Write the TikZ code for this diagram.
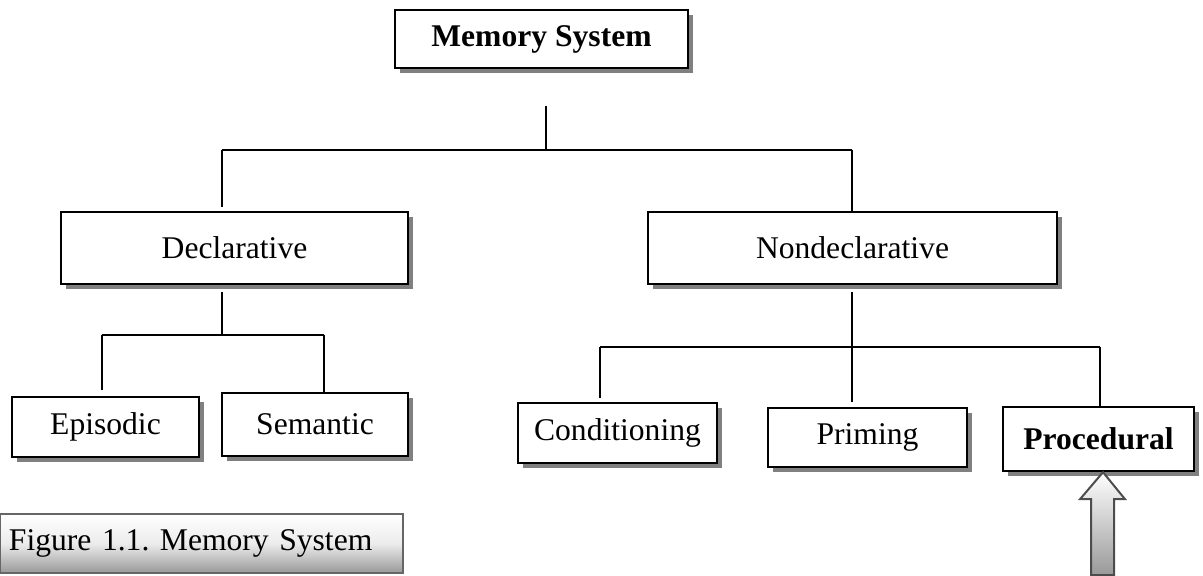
\documentclass[tikz,border=0pt]{standalone}
\usepackage{fontspec}
\setmainfont{Liberation Serif}
\frenchspacing
\usetikzlibrary{shadows}

\begin{document}
\begin{tikzpicture}[
	x=0.5pt, y=-0.5pt,
	box/.style={
		rectangle,
		draw=black,
		line width=1.2pt,
		fill=white,
		inner sep=0pt,
		minimum height=30pt,
		text centered,
		font=\fontsize{15.8}{19}\selectfont,
		drop shadow={shadow xshift=2.5pt, shadow yshift=-2.5pt, fill=gray, opacity=1}
	},
	link/.style={line width=1pt},
	pointer/.style={
		draw=gray!60!black,
		line width=1pt,
		top color=white,
		bottom color=gray!80
	},
	caption/.style={
		rectangle,
		draw=gray!80!black,
		line width=1.2pt,
		top color=white,
		bottom color=gray!80,
		middle color=gray!15,
		inner xsep=4.5pt,
		inner ysep=0pt,
		text width=192.5pt,
		minimum height=29.5pt,
		align=left,
		font=\fontsize{15.8}{19}\selectfont
	}
	]
	
	\useasboundingbox (0,0) rectangle (1203,576);
	
	% Top box
	\node[box, minimum width=146.5pt, minimum height=29pt] (memory) at (541.5,39) {\bfseries Memory System};
	
	% Second level
	\node[box, minimum width=173.5pt, minimum height=36pt] (decl) at (234.5,248) {Declarative};
	\node[box, minimum width=204.5pt, minimum height=36pt] (nondecl) at (852.5,248) {Nondeclarative};
	
	% Third level
	\node[box, minimum width=93.5pt] (episodic) at (105.5,427) {Episodic};
	\node[box, minimum width=93pt, minimum height=31.5pt] (semantic) at (315,424.5) {Semantic};
	\node[box, minimum width=99.5pt] (cond) at (617.5,433) {Conditioning};
	\node[box, minimum width=99.5pt, minimum height=29.5pt] (priming) at (867.5,437.5) {Priming};
	\node[box, minimum width=95.5pt, minimum height=32pt] (proc) at (1098.5,439) {\bfseries Procedural};
	
	% Junctions
	\coordinate (memjoin) at (546,150);
	\coordinate (declup) at (222,150);
	\coordinate (nondeclup) at (852,150);
	\coordinate (declfork) at (222,335);
	\coordinate (episodicup) at (102,335);
	\coordinate (semanticup) at (324,335);
	\coordinate (nondeclfork) at (852,347);
	\coordinate (condup) at (600,347);
	\coordinate (procup) at (1100,347);
	
	% Memory system to the two branches
	\draw[link, shorten <=18.5pt] (memjoin |- memory.south) -- (memjoin);
	\draw[link] (declup) -- (nondeclup);
	\draw[link, shorten >=2pt] (declup) -- (declup |- decl.north);
	\draw[link] (nondeclup) -- (nondeclup |- nondecl.north);
	
	% Declarative
	\draw[link, shorten <=3.5pt] (declfork |- decl.south) -- (declfork);
	\draw[link] (episodicup) -- (semanticup);
	\draw[link, shorten >=3pt] (episodicup) -- (episodicup |- episodic.north);
	\draw[link] (semanticup) -- (semanticup |- semantic.north);
	
	% Nondeclarative
	\draw[link, shorten <=3.5pt] (nondeclfork |- nondecl.south) -- (nondeclfork);
	\draw[link] (condup) -- (procup);
	\draw[link, shorten >=2pt] (condup) -- (condup |- cond.north);
	\draw[link, shorten >=2.5pt] (nondeclfork) -- (nondeclfork |- priming.north);
	\draw[link] (procup) -- (procup |- proc.north);
	
	% Arrow
	\coordinate (tip) at ([xshift=2.25pt]proc.south);
	\draw[pointer] (tip) -- ++(22,27) -- ++(-11,0) -- ++(0,76) -- ++(-23,0) -- ++(0,-76) -- ++(-11,0) -- cycle;
	
	% Caption
	\node[caption] (figcap) at (201.5,543.5) {Figure 1.1. Memory System};
	
\end{tikzpicture}
\end{document}
